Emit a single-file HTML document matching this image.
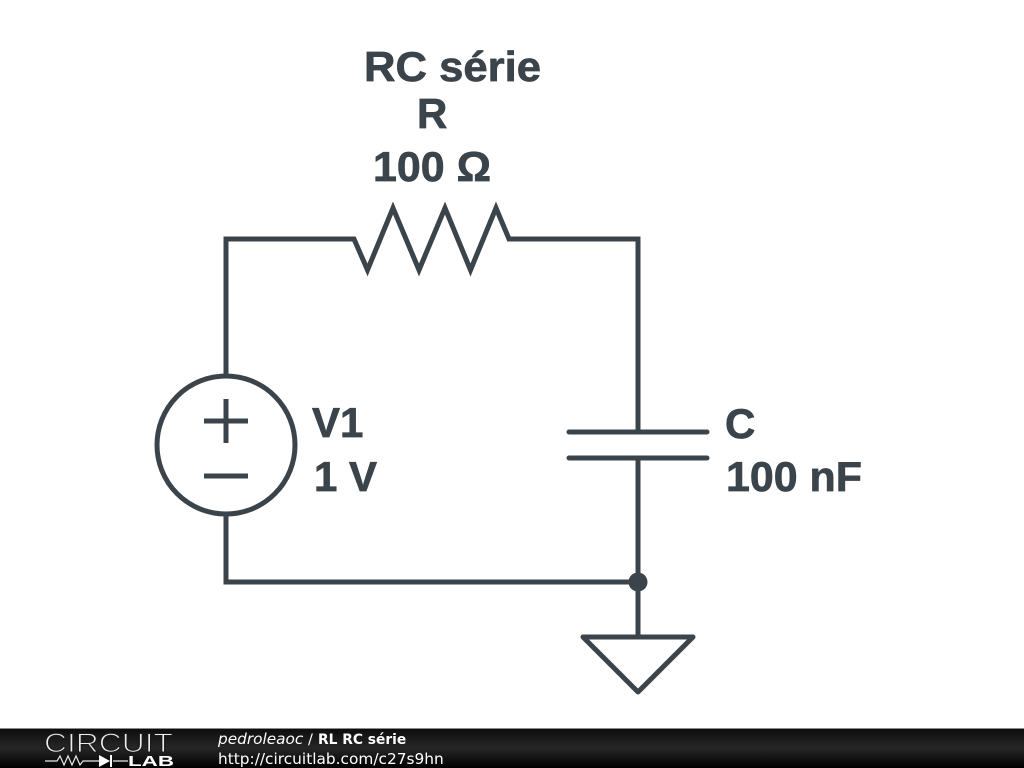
<!DOCTYPE html>
<html><head><meta charset="utf-8"><style>
html,body{margin:0;padding:0;background:#fff;width:1024px;height:768px;overflow:hidden}
svg{display:block}
</style></head><body>
<svg xmlns="http://www.w3.org/2000/svg" width="1024" height="768" viewBox="0 0 1024 768">
<defs><linearGradient id="g" x1="0" y1="0" x2="0" y2="1"><stop offset="0" stop-color="#0c0c0c"/><stop offset="0.5" stop-color="#262626"/><stop offset="1" stop-color="#000"/></linearGradient></defs>
<rect width="1024" height="768" fill="#fff"/>
<g fill="none" stroke="#3b444b" stroke-width="5">
<path d="M226 375V239H354L367.5 270 393 208 419 270 445 208 470.5 270 496 208 509 239H638V432"/>
<circle cx="226" cy="445" r="69"/>
<path d="M226 399V443M204 421H248M204 476H248"/>
<path d="M226 515V582H638M638 458V636"/>
<path d="M569 432H707M569 458H707" stroke-linecap="round"/>
<path d="M583 637H693L638 692Z" stroke-linejoin="round"/>
</g>
<circle cx="638" cy="582" r="9.5" fill="#3b444b"/>
<g font-family="'Liberation Sans',sans-serif" font-weight="bold" font-size="42" fill="#3b444b" stroke="#3b444b" stroke-width="0.7">
<text x="364" y="81" textLength="177" lengthAdjust="spacingAndGlyphs">RC série</text>
<text x="417" y="128">R</text>
<text x="373" y="181" textLength="118" lengthAdjust="spacingAndGlyphs">100 Ω</text>
<text x="312" y="437">V1</text>
<text x="314" y="491">1 V</text>
<text x="725" y="438">C</text>
<text x="726" y="491" textLength="136" lengthAdjust="spacingAndGlyphs">100 nF</text>
</g>
<rect y="728" width="1024" height="40" fill="url(#g)"/>
<rect y="728" width="1024" height="1" fill="#8a8a8a"/>
<text x="44" y="752" font-family="'Liberation Sans',sans-serif" font-size="26.5" fill="#eeeeee" stroke="#1c1c1c" stroke-width="1.1" textLength="129" lengthAdjust="spacingAndGlyphs">CIRCUIT</text>
<path d="M45 761H57L60 756 64 765 68 756 72 765 76 756 80 765 83 761H99M113 761H128" fill="none" stroke="#e8e8e8" stroke-width="1.2"/>
<path d="M99 755V767L110 761Z" fill="#fff"/><path d="M111 755V767" stroke="#fff" stroke-width="2"/>
<text x="128" y="766" font-family="'Liberation Sans',sans-serif" font-weight="bold" font-size="15" fill="#fff" textLength="46" lengthAdjust="spacingAndGlyphs">LAB</text>
<g font-family="'DejaVu Sans',sans-serif" fill="#fff">
<text x="218" y="744" font-size="15.3" font-style="italic">pedroleaoc</text>
<text x="308" y="744" font-size="14.6">/</text>
<text x="318" y="744" font-size="13.8" font-weight="bold">RL RC série</text>
<text x="218" y="764" font-size="15.36">http://circuitlab.com/c27s9hn</text>
</g>
</svg>
</body></html>
